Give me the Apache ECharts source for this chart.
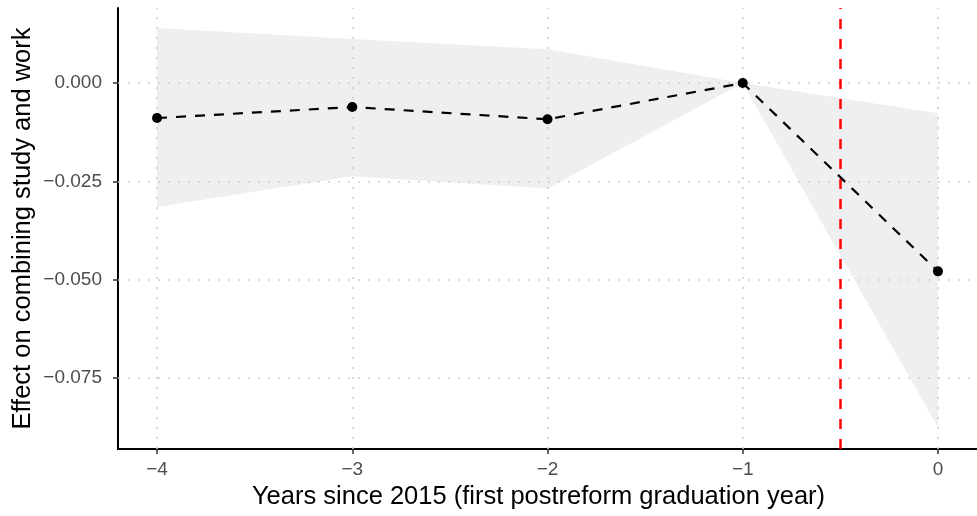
<!DOCTYPE html>
<html>
<head>
<meta charset="utf-8">
<script src="https://cdn.jsdelivr.net/npm/echarts@6/dist/echarts.min.js"></script>
<style>
  html, body { margin: 0; padding: 0; background: #fff; }
  #chart { width: 977px; height: 516px; }
</style>
</head>
<body>
<div id="chart"></div>
<script>
// years relative to 2015
var years = [-4, -3, -2, -1, 0];
var effect = [-0.0089, -0.0061, -0.0092, 0, -0.0479];
var ciLower = [-0.0315, -0.0237, -0.0268, 0, -0.0876];
var ciUpper = [0.0140, 0.0112, 0.0086, 0, -0.0077];
var xTicks = [-4, -3, -2, -1, 0];
var yTicks = [-0.075, -0.05, -0.025, 0];
var reformLine = -0.5;

var chart = echarts.init(document.getElementById("chart"));

function minus(s) {
  return String(s).replace("-", "\u2212");
}

var gridLine = {
  color: "#cfcfcf",
  width: 1.6,
  type: [2, 8],
};

chart.setOption({
  animation: false,
  textStyle: { fontFamily: "Liberation Sans" },
  grid: { left: 118, right: 0, top: 8, bottom: 67, containLabel: false, outerBoundsMode: "none" },
  xAxis: {
    type: "value",
    min: -4.2,
    max: 0.2,
    name: "Years since 2015 (first postreform graduation year)",
    nameLocation: "middle",
    nameGap: 35,
    nameMoveOverlap: false,
    nameTextStyle: { fontSize: 25.5, color: "#000", padding: [0, 18, 0, 0] },
    axisLine: { show: true, onZero: false, lineStyle: { color: "#000", width: 2 } },
    axisTick: { show: true, customValues: xTicks, length: 5, lineStyle: { color: "#333", width: 1.5 } },
    axisLabel: {
      customValues: xTicks,
      fontSize: 19,
      color: "#4d4d4d",
      margin: 11,
      formatter: function (v) { return minus(v); },
    },
    splitLine: { show: false },
  },
  yAxis: {
    type: "value",
    min: -0.0931,
    max: 0.0191,
    name: "Effect on combining study and work",
    nameLocation: "middle",
    nameGap: 82,
    nameMoveOverlap: false,
    nameTextStyle: { fontSize: 25.5, color: "#000" },
    axisLine: { show: true, onZero: false, lineStyle: { color: "#000", width: 2 } },
    axisTick: { show: true, customValues: yTicks, length: 5, lineStyle: { color: "#333", width: 1.5 } },
    axisLabel: {
      customValues: yTicks,
      fontSize: 19,
      color: "#4d4d4d",
      margin: 16,
      formatter: function (v) { return minus(v.toFixed(3)); },
    },
    splitLine: { show: false },
  },
  series: [
    {
      // confidence band
      type: "custom",
      silent: true,
      z: 1,
      data: years.map(function (x, i) { return [x, ciLower[i], ciUpper[i]]; }),
      encode: { x: 0, y: [1, 2] },
      renderItem: function (params, api) {
        if (params.dataIndex !== 0) return;
        var pts = [];
        for (var i = 0; i < years.length; i++) pts.push(api.coord([years[i], ciUpper[i]]));
        for (var j = years.length - 1; j >= 0; j--) pts.push(api.coord([years[j], ciLower[j]]));
        return {
          type: "polygon",
          shape: { points: pts },
          style: { fill: "#efefef" },
        };
      },
    },
    {
      // grid lines
      type: "line",
      data: [],
      silent: true,
      z: 2,
      markLine: {
        silent: true,
        symbol: "none",
        precision: 4,
        label: { show: false },
        lineStyle: gridLine,
        data: xTicks.map(function (v) { return { xAxis: v }; })
          .concat(yTicks.map(function (v) { return { yAxis: v }; })),
      },
    },
    {
      type: "line",
      z: 5,
      data: years.map(function (x, i) { return [x, effect[i]]; }),
      symbol: "circle",
      symbolSize: 10,
      itemStyle: { color: "#000" },
      lineStyle: { color: "#000", width: 2.2, type: [10, 9] },
      markLine: {
        silent: true,
        symbol: "none",
        precision: 4,
        label: { show: false },
        lineStyle: { color: "#ff0000", width: 2.5, type: [10, 10] },
        data: [{ xAxis: reformLine }],
      },
    },
  ],
});
</script>
</body>
</html>
